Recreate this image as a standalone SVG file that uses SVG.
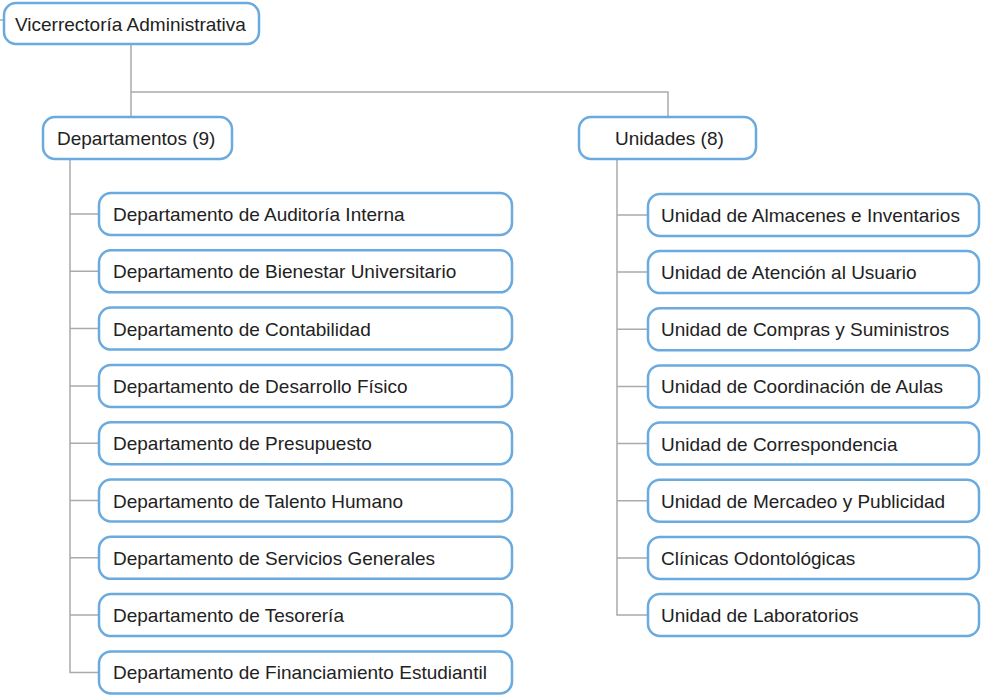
<svg xmlns="http://www.w3.org/2000/svg" width="983" height="697" viewBox="0 0 983 697">
<style>
.box{fill:#fff;stroke:#6aaade;stroke-width:2.5}
.t{font-family:"Liberation Sans",Arial,sans-serif;font-size:19px;fill:#222}
.c{fill:none;stroke:#aaa;stroke-width:1.5}
</style>
<rect width="983" height="697" fill="#fff"/>
<g id="connectors">
<path class="c" d="M0 20H4"/>
<path class="c" d="M131 45V117M131 92H668V117"/>
<path class="c" d="M70 160V672.5H99"/>
<path class="c" d="M70 214H99M70 271.3H99M70 328.6H99M70 385.9H99M70 443.2H99M70 500.5H99M70 557.8H99M70 615.1H99"/>
<path class="c" d="M617 160V615H648"/>
<path class="c" d="M617 215H648M617 272.1H648M617 329.3H648M617 386.4H648M617 443.6H648M617 500.7H648M617 557.9H648"/>
</g>
<g id="root"><rect class="box" x="4" y="3" width="255" height="41" rx="12"/><text class="t" x="15" y="31">Vicerrectoría Administrativa</text></g>
<g id="departamentos"><rect class="box" x="43" y="117" width="189" height="42" rx="12"/><text class="t" x="57" y="145">Departamentos (9)</text></g>
<g id="unidades"><rect class="box" x="579" y="117" width="177" height="42" rx="12"/><text class="t" x="615" y="145">Unidades (8)</text></g>
<g id="d1"><rect class="box" x="99" y="193" width="413" height="42" rx="12"/><text class="t" x="113" y="221">Departamento de Auditoría Interna</text></g>
<g id="d2"><rect class="box" x="99" y="250.3" width="413" height="42" rx="12"/><text class="t" x="113" y="278.3">Departamento de Bienestar Universitario</text></g>
<g id="d3"><rect class="box" x="99" y="307.6" width="413" height="42" rx="12"/><text class="t" x="113" y="335.6">Departamento de Contabilidad</text></g>
<g id="d4"><rect class="box" x="99" y="364.9" width="413" height="42" rx="12"/><text class="t" x="113" y="392.9">Departamento de Desarrollo Físico</text></g>
<g id="d5"><rect class="box" x="99" y="422.2" width="413" height="42" rx="12"/><text class="t" x="113" y="450.2">Departamento de Presupuesto</text></g>
<g id="d6"><rect class="box" x="99" y="479.5" width="413" height="42" rx="12"/><text class="t" x="113" y="507.5">Departamento de Talento Humano</text></g>
<g id="d7"><rect class="box" x="99" y="536.8" width="413" height="42" rx="12"/><text class="t" x="113" y="564.8">Departamento de Servicios Generales</text></g>
<g id="d8"><rect class="box" x="99" y="594.1" width="413" height="42" rx="12"/><text class="t" x="113" y="622.1">Departamento de Tesorería</text></g>
<g id="d9"><rect class="box" x="99" y="651.4" width="413" height="42" rx="12"/><text class="t" x="113" y="679.4">Departamento de Financiamiento Estudiantil</text></g>
<g id="u1"><rect class="box" x="648" y="194" width="331" height="42" rx="12"/><text class="t" x="661" y="222">Unidad de Almacenes e Inventarios</text></g>
<g id="u2"><rect class="box" x="648" y="251.1" width="331" height="42" rx="12"/><text class="t" x="661" y="279.1">Unidad de Atención al Usuario</text></g>
<g id="u3"><rect class="box" x="648" y="308.3" width="331" height="42" rx="12"/><text class="t" x="661" y="336.3">Unidad de Compras y Suministros</text></g>
<g id="u4"><rect class="box" x="648" y="365.4" width="331" height="42" rx="12"/><text class="t" x="661" y="393.4">Unidad de Coordinación de Aulas</text></g>
<g id="u5"><rect class="box" x="648" y="422.6" width="331" height="42" rx="12"/><text class="t" x="661" y="450.6">Unidad de Correspondencia</text></g>
<g id="u6"><rect class="box" x="648" y="479.7" width="331" height="42" rx="12"/><text class="t" x="661" y="507.7">Unidad de Mercadeo y Publicidad</text></g>
<g id="u7"><rect class="box" x="648" y="536.9" width="331" height="42" rx="12"/><text class="t" x="661" y="564.9">Clínicas Odontológicas</text></g>
<g id="u8"><rect class="box" x="648" y="594" width="331" height="42" rx="12"/><text class="t" x="661" y="622">Unidad de Laboratorios</text></g>
</svg>
